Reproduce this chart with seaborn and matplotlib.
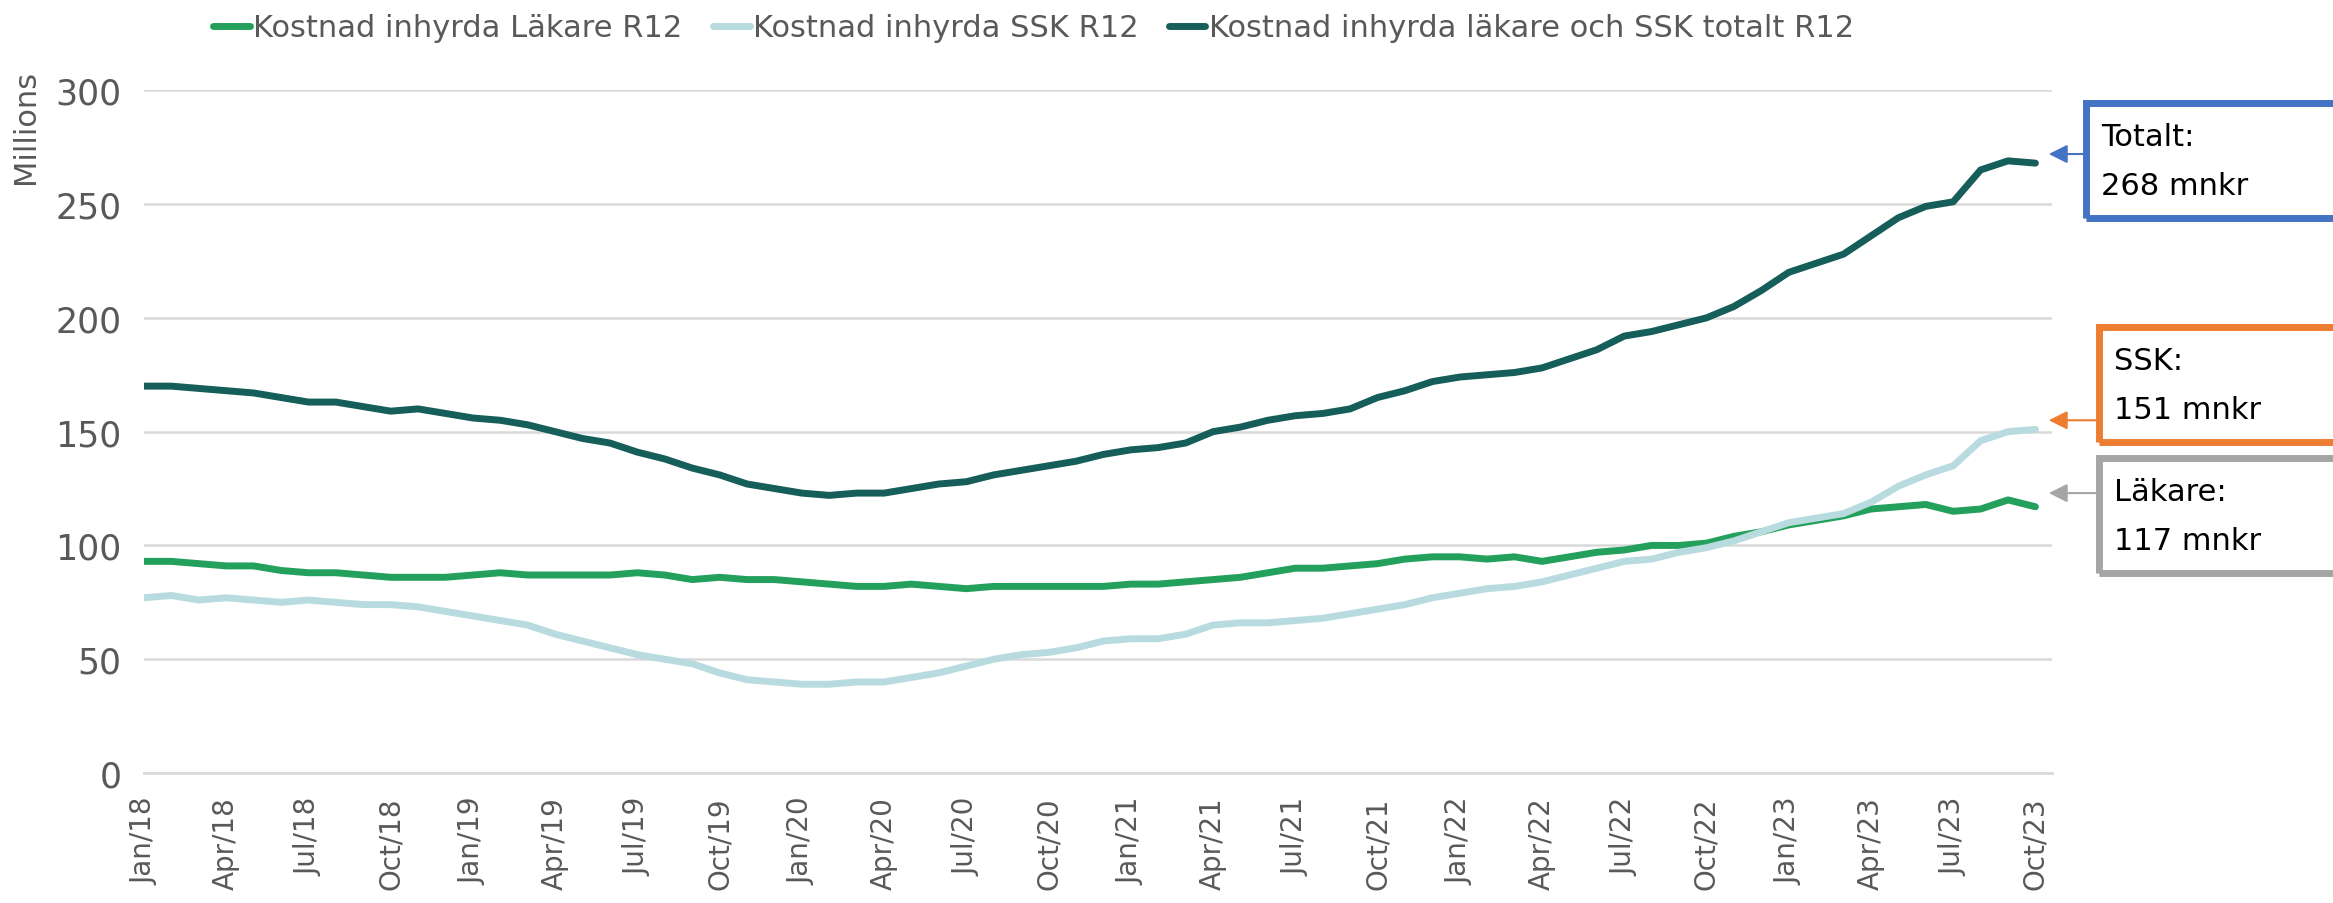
import matplotlib.pyplot as plt
import matplotlib.patches as mpatches
import seaborn as sns
import numpy as np
import pandas as pd

# monthly R12 values, Jan/18 .. Oct/23 (millions SEK)
months = pd.date_range("2018-01-01", "2023-10-01", freq="MS")
month_labels = [d.strftime("%b/%y") for d in months]

lakare = [93, 93, 92, 91, 91, 89, 88, 88, 87, 86, 86, 86,
          87, 88, 87, 87, 87, 87, 88, 87, 85, 86, 85, 85,
          84, 83, 82, 82, 83, 82, 81, 82, 82, 82, 82, 82,
          83, 83, 84, 85, 86, 88, 90, 90, 91, 92, 94, 95,
          95, 94, 95, 93, 95, 97, 98, 100, 100, 101, 104, 106,
          109, 111, 113, 116, 117, 118, 115, 116, 120, 117]

ssk = [77, 78, 76, 77, 76, 75, 76, 75, 74, 74, 73, 71,
       69, 67, 65, 61, 58, 55, 52, 50, 48, 44, 41, 40,
       39, 39, 40, 40, 42, 44, 47, 50, 52, 53, 55, 58,
       59, 59, 61, 65, 66, 66, 67, 68, 70, 72, 74, 77,
       79, 81, 82, 84, 87, 90, 93, 94, 97, 99, 102, 106,
       110, 112, 114, 119, 126, 131, 135, 146, 150, 151]

totalt = [170, 170, 169, 168, 167, 165, 163, 163, 161, 159, 160, 158,
          156, 155, 153, 150, 147, 145, 141, 138, 134, 131, 127, 125,
          123, 122, 123, 123, 125, 127, 128, 131, 133, 135, 137, 140,
          142, 143, 145, 150, 152, 155, 157, 158, 160, 165, 168, 172,
          174, 175, 176, 178, 182, 186, 192, 194, 197, 200, 205, 212,
          220, 224, 228, 236, 244, 249, 251, 265, 269, 268]

series_names = ["Kostnad inhyrda Läkare R12",
                "Kostnad inhyrda SSK R12",
                "Kostnad inhyrda läkare och SSK totalt R12"]
colors = ["#23a05b", "#b8dbe0", "#165e59"]

callout_titles = ["Totalt:", "SSK:", "Läkare:"]
callout_values = ["268 mnkr", "151 mnkr", "117 mnkr"]
callout_colors = ["#4472c4", "#ed7d31", "#a5a5a5"]
callout_arrow_y = [272, 155, 123]

df = pd.DataFrame({"idx": np.arange(len(months)),
                   series_names[0]: lakare,
                   series_names[1]: ssk,
                   series_names[2]: totalt})
data = df.melt(id_vars="idx", var_name="serie", value_name="value")

sns.set_style("white")
plt.rcParams['font.family'] = ['DejaVu Sans']

fig = plt.figure(figsize=(23.33, 9.04), dpi=100)
ax = fig.add_axes([0.0617, 0.1438, 0.8178, 0.7552])

sns.lineplot(data=data, x="idx", y="value", hue="serie",
             palette=dict(zip(series_names, colors)),
             linewidth=5, ax=ax, legend=True)

ax.set_xlim(0, 69.6)
ax.set_ylim(0, 300)
ax.set_yticks(np.arange(0, 301, 50))
ax.yaxis.grid(True, color="#d9d9d9", linewidth=1.8)
ax.set_axisbelow(True)
for s in ["top", "right", "left"]:
    ax.spines[s].set_visible(False)
ax.spines["bottom"].set_color("#d9d9d9")
ax.spines["bottom"].set_linewidth(2)

ticks = np.arange(0, len(months), 3)
ax.set_xticks(ticks)
ax.set_xticklabels([month_labels[i] for i in ticks], rotation=90,
                   fontsize=20, color="#595959")
ax.tick_params(axis="x", length=12, width=1.5, color="#d9d9d9",
               direction="out", pad=5)
ax.tick_params(axis="y", length=0, labelsize=25, labelcolor="#595959", pad=16)
ax.set_xlabel("")
ax.set_ylabel("")

fig.text(0.011, 0.86, "Millions", rotation=90, fontsize=22,
         color="#595959", ha="center", va="center")

ax.legend(loc="center", bbox_to_anchor=(0.443, 0.968),
          bbox_transform=fig.transFigure, ncol=3, frameon=False,
          fontsize=22, handlelength=1.2, handletextpad=0.1,
          columnspacing=1.0, labelcolor="#595959")

# callout boxes on the right
box_x = [0.894, 0.8995, 0.8995]
box_y = [0.758, 0.510, 0.365]
box_h = 0.127
for title, val, col, ay, bx, by in zip(callout_titles, callout_values,
                                       callout_colors, callout_arrow_y,
                                       box_x, box_y):
    fig.patches.append(mpatches.Rectangle((bx, by), 0.2, box_h,
                                          transform=fig.transFigure,
                                          fill=False, edgecolor=col,
                                          linewidth=5))
    fig.text(bx + 0.0065, by + box_h * 0.71, title, fontsize=22,
             color="black", va="center")
    fig.text(bx + 0.0065, by + box_h * 0.28, val, fontsize=22,
             color="black", va="center")
    ax.annotate("", xy=(0.877, ay), xycoords=("figure fraction", "data"),
                xytext=(bx, ay), textcoords=("figure fraction", "data"),
                arrowprops=dict(arrowstyle="-|>", color=col, lw=1.5,
                                mutation_scale=28),
                annotation_clip=False)

fig.savefig("out.png", dpi=100)
